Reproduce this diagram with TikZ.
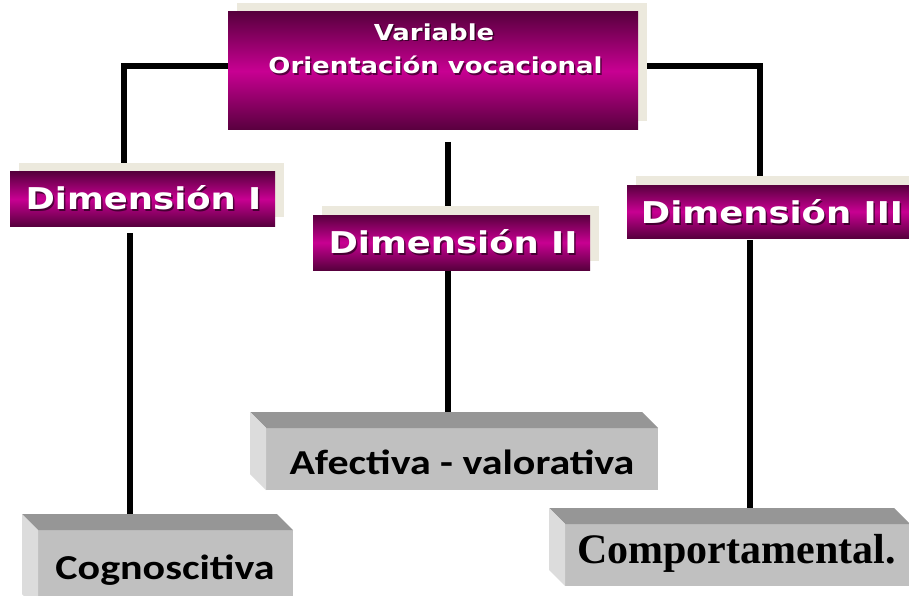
\documentclass[tikz,border=0pt]{standalone}
\usepackage{fontspec}
\usetikzlibrary{shadows}
\newfontfamily\vfont[FakeStretch=1.18]{DejaVu Sans}
\newfontfamily\cfont[FakeStretch=1.2]{Carlito}
\newfontfamily\tfont{Liberation Serif}
\definecolor{purpdark}{RGB}{88,0,62}
\definecolor{purpmid}{RGB}{200,0,146}
\definecolor{beige}{RGB}{236,233,221}
\definecolor{gfront}{RGB}{192,192,192}
\definecolor{gtop}{RGB}{150,150,150}
\definecolor{gside}{RGB}{220,220,220}
\pgfdeclarelayer{background}
\pgfsetlayers{background,main}
\newcommand\wlabel[3]{%
  \node[font=#1, text=black, opacity=0.55] at ([xshift=1.5pt,yshift=-1.5pt]#2) {#3};
  \node[font=#1, text=white] at (#2) {#3};}
\begin{document}
\begin{tikzpicture}[x=1pt,y=-1pt,
  purpbox/.style={shade, top color=purpdark, bottom color=purpdark, middle color=purpmid,
    inner sep=0pt, outer sep=0pt,
    general shadow={fill=beige, shadow xshift=9pt, shadow yshift=9pt}},
  gbox/.style={fill=gfront, inner sep=0pt, outer sep=0pt},
  conn/.style={line width=6pt, black, line join=miter},
  grayfont/.style={font=\cfont\bfseries\fontsize{35}{39}\selectfont}]
\useasboundingbox (0,0) rectangle (909,596);

% purple boxes
\node[purpbox, minimum width=410, minimum height=118] (var) at (433,71) {};
\node[purpbox, minimum width=265, minimum height=54] (d1) at (142.5,199) {};
\node[purpbox, minimum width=277, minimum height=55] (d2) at (451.5,242.5) {};
\node[purpbox, minimum width=282, minimum height=53] (d3) at (768,211.5) {};

\wlabel{\vfont\bfseries\fontsize{22}{25}\selectfont}{434,32}{Variable}
\wlabel{\vfont\bfseries\fontsize{22}{25}\selectfont}{435.5,65}{Orientación vocacional}
\wlabel{\vfont\bfseries\fontsize{30}{34}\selectfont}{143.5,198}{Dimensión I}
\wlabel{\vfont\bfseries\fontsize{30}{34}\selectfont}{453,242}{Dimensión II}
\wlabel{\vfont\bfseries\fontsize{30}{34}\selectfont}{772,212}{Dimensión III}

% gray 3D boxes
\node[gbox, minimum width=392, minimum height=62] (afe) at (462,459) {};
\node[gbox, minimum width=255, minimum height=80] (cog) at (165.5,570) {};
\node[gbox, minimum width=345, minimum height=62] (comp) at (737.5,555) {};
\foreach \b in {afe,cog,comp}{
  \fill[gtop] (\b.north west) -- (\b.north east) -- ([shift={(-16pt,16pt)}]\b.north east)
     -- ([shift={(-16pt,16pt)}]\b.north west) -- cycle;
  \fill[gside] (\b.north west) -- (\b.south west) -- ([shift={(-16pt,16pt)}]\b.south west)
     -- ([shift={(-16pt,16pt)}]\b.north west) -- cycle;
}
\node[grayfont] at (462,462) {Afectiva - valorativa};
\node[grayfont] at (165,570) {Cognoscitiva};
\node[font=\tfont\bfseries\fontsize{42}{46}\selectfont] at (736.5,553) {Comportamental.};

% connectors
\begin{pgfonlayer}{background}
\fill[white] (0,0) rectangle (909,596);
\draw[conn] ([xshift=-18.5pt]d1.north) |- ([yshift=5pt]var.west);
\draw[conn] ([yshift=5pt]var.east) -| ([xshift=-8pt]d3.north);
\draw[conn] ([xshift=15pt,yshift=-12pt]var.south) -- ([xshift=-3.5pt]d2.north);
\draw[conn] ([xshift=-12.5pt,yshift=-7pt]d1.south) -- ([xshift=-35.5pt]cog.north);
\draw[conn] ([xshift=-3.5pt]d2.south) -- ([xshift=-14pt]afe.north);
\draw[conn] ([xshift=-18pt,yshift=-2pt]d3.south) -- ([xshift=12.5pt]comp.north);
\end{pgfonlayer}
\end{tikzpicture}
\end{document}
